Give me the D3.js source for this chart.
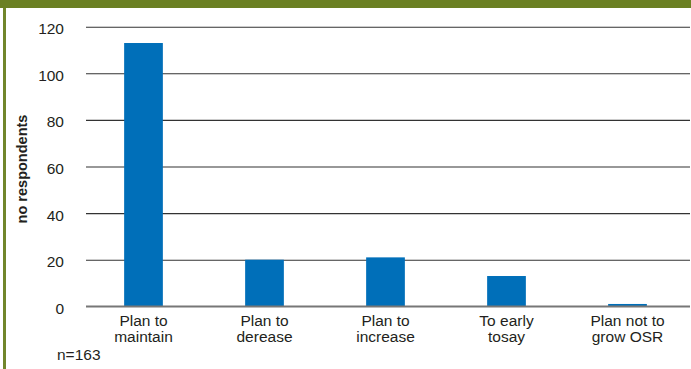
<!DOCTYPE html>
<html>
<head>
<meta charset="utf-8">
<script src="https://cdn.jsdelivr.net/npm/d3@7"></script>
<style>
  html, body { margin: 0; padding: 0; background: #fff; }
  svg { display: block; }
  text { font-family: "Liberation Sans", Arial, Helvetica, sans-serif; fill: #231f20; }
</style>
</head>
<body>
<svg id="chart" width="691" height="369"></svg>
<script>
// Survey answers: plans for oilseed rape area
const categories = ["Plan to|maintain", "Plan to|derease", "Plan to|increase", "To early|tosay", "Plan not to|grow OSR"];
const respondents = [113, 20, 21, 13, 1];
const yTicks = [0, 20, 40, 60, 80, 100, 120];
const yTitle = "no respondents";
const sampleNote = "n=163";

const W = 691, H = 369;
const svg = d3.select("#chart");

// frame: olive band on top and thin olive rule on the left
svg.append("rect").attr("x", 0).attr("y", 0).attr("width", W).attr("height", 8).attr("fill", "#6b8023");
svg.append("rect").attr("x", 3).attr("y", 8).attr("width", 3).attr("height", H - 8).attr("fill", "#71862b");

const gridLeft = 86, gridRight = 690;

const x = d3.scaleBand()
  .domain(categories)
  .range([83, 688])
  .paddingInner(0.68)
  .paddingOuter(0.34);

const y = d3.scaleLinear()
  .domain([0, 120])
  .range([306.3, 26.7]);

// value axis with full-width gridlines
const yAxis = svg.append("g")
  .attr("transform", `translate(${gridLeft},0)`)
  .call(d3.axisLeft(y)
    .tickValues(yTicks)
    .tickSize(-(gridRight - gridLeft))
    .tickPadding(22)
    .tickFormat(d3.format("d")));
yAxis.select(".domain").remove();
yAxis.selectAll(".tick line")
  .attr("stroke", d => d === 0 ? "#777" : "#333")
  .attr("stroke-width", d => d === 0 ? 1.6 : 1.1);
yAxis.selectAll(".tick text")
  .attr("font-size", "15.5px")
  .attr("fill", "#231f20")
  .attr("dy", "0.45em")
  .style("font-family", "'Liberation Sans', Arial, sans-serif");

// bars
svg.append("g")
  .selectAll("rect")
  .data(respondents)
  .join("rect")
  .attr("x", (d, i) => x(categories[i]))
  .attr("width", x.bandwidth())
  .attr("y", d => y(d))
  .attr("height", d => y(0) - y(d))
  .attr("fill", "#006fb9");

// the zero line sits above the bars
svg.append("line")
  .attr("x1", gridLeft).attr("x2", gridRight)
  .attr("y1", y(0)).attr("y2", y(0))
  .attr("stroke", "#777").attr("stroke-width", 1.6);

// category axis, two-line labels
const xAxis = svg.append("g")
  .attr("transform", `translate(0,${y(0)})`)
  .call(d3.axisBottom(x).tickSize(0).tickPadding(0));
xAxis.select(".domain").remove();
xAxis.selectAll(".tick text")
  .attr("font-size", "15.5px")
  .attr("fill", "#231f20")
  .style("font-family", "'Liberation Sans', Arial, sans-serif")
  .attr("y", 0)
  .attr("dy", null)
  .text(null)
  .each(function(d) {
    const lines = d.split("|");
    const t = d3.select(this);
    lines.forEach((ln, k) => {
      t.append("tspan")
        .attr("x", 0)
        .attr("y", 20 + k * 16)
        .text(ln);
    });
  });

// axis title
svg.append("text")
  .attr("transform", "translate(27,169) rotate(-90)")
  .attr("text-anchor", "middle")
  .attr("font-size", "14.5px")
  .attr("font-weight", "bold")
  .text(yTitle);

// sample size note
svg.append("text")
  .attr("x", 57)
  .attr("y", 360)
  .attr("font-size", "15.5px")
  .text(sampleNote);
</script>
</body>
</html>
